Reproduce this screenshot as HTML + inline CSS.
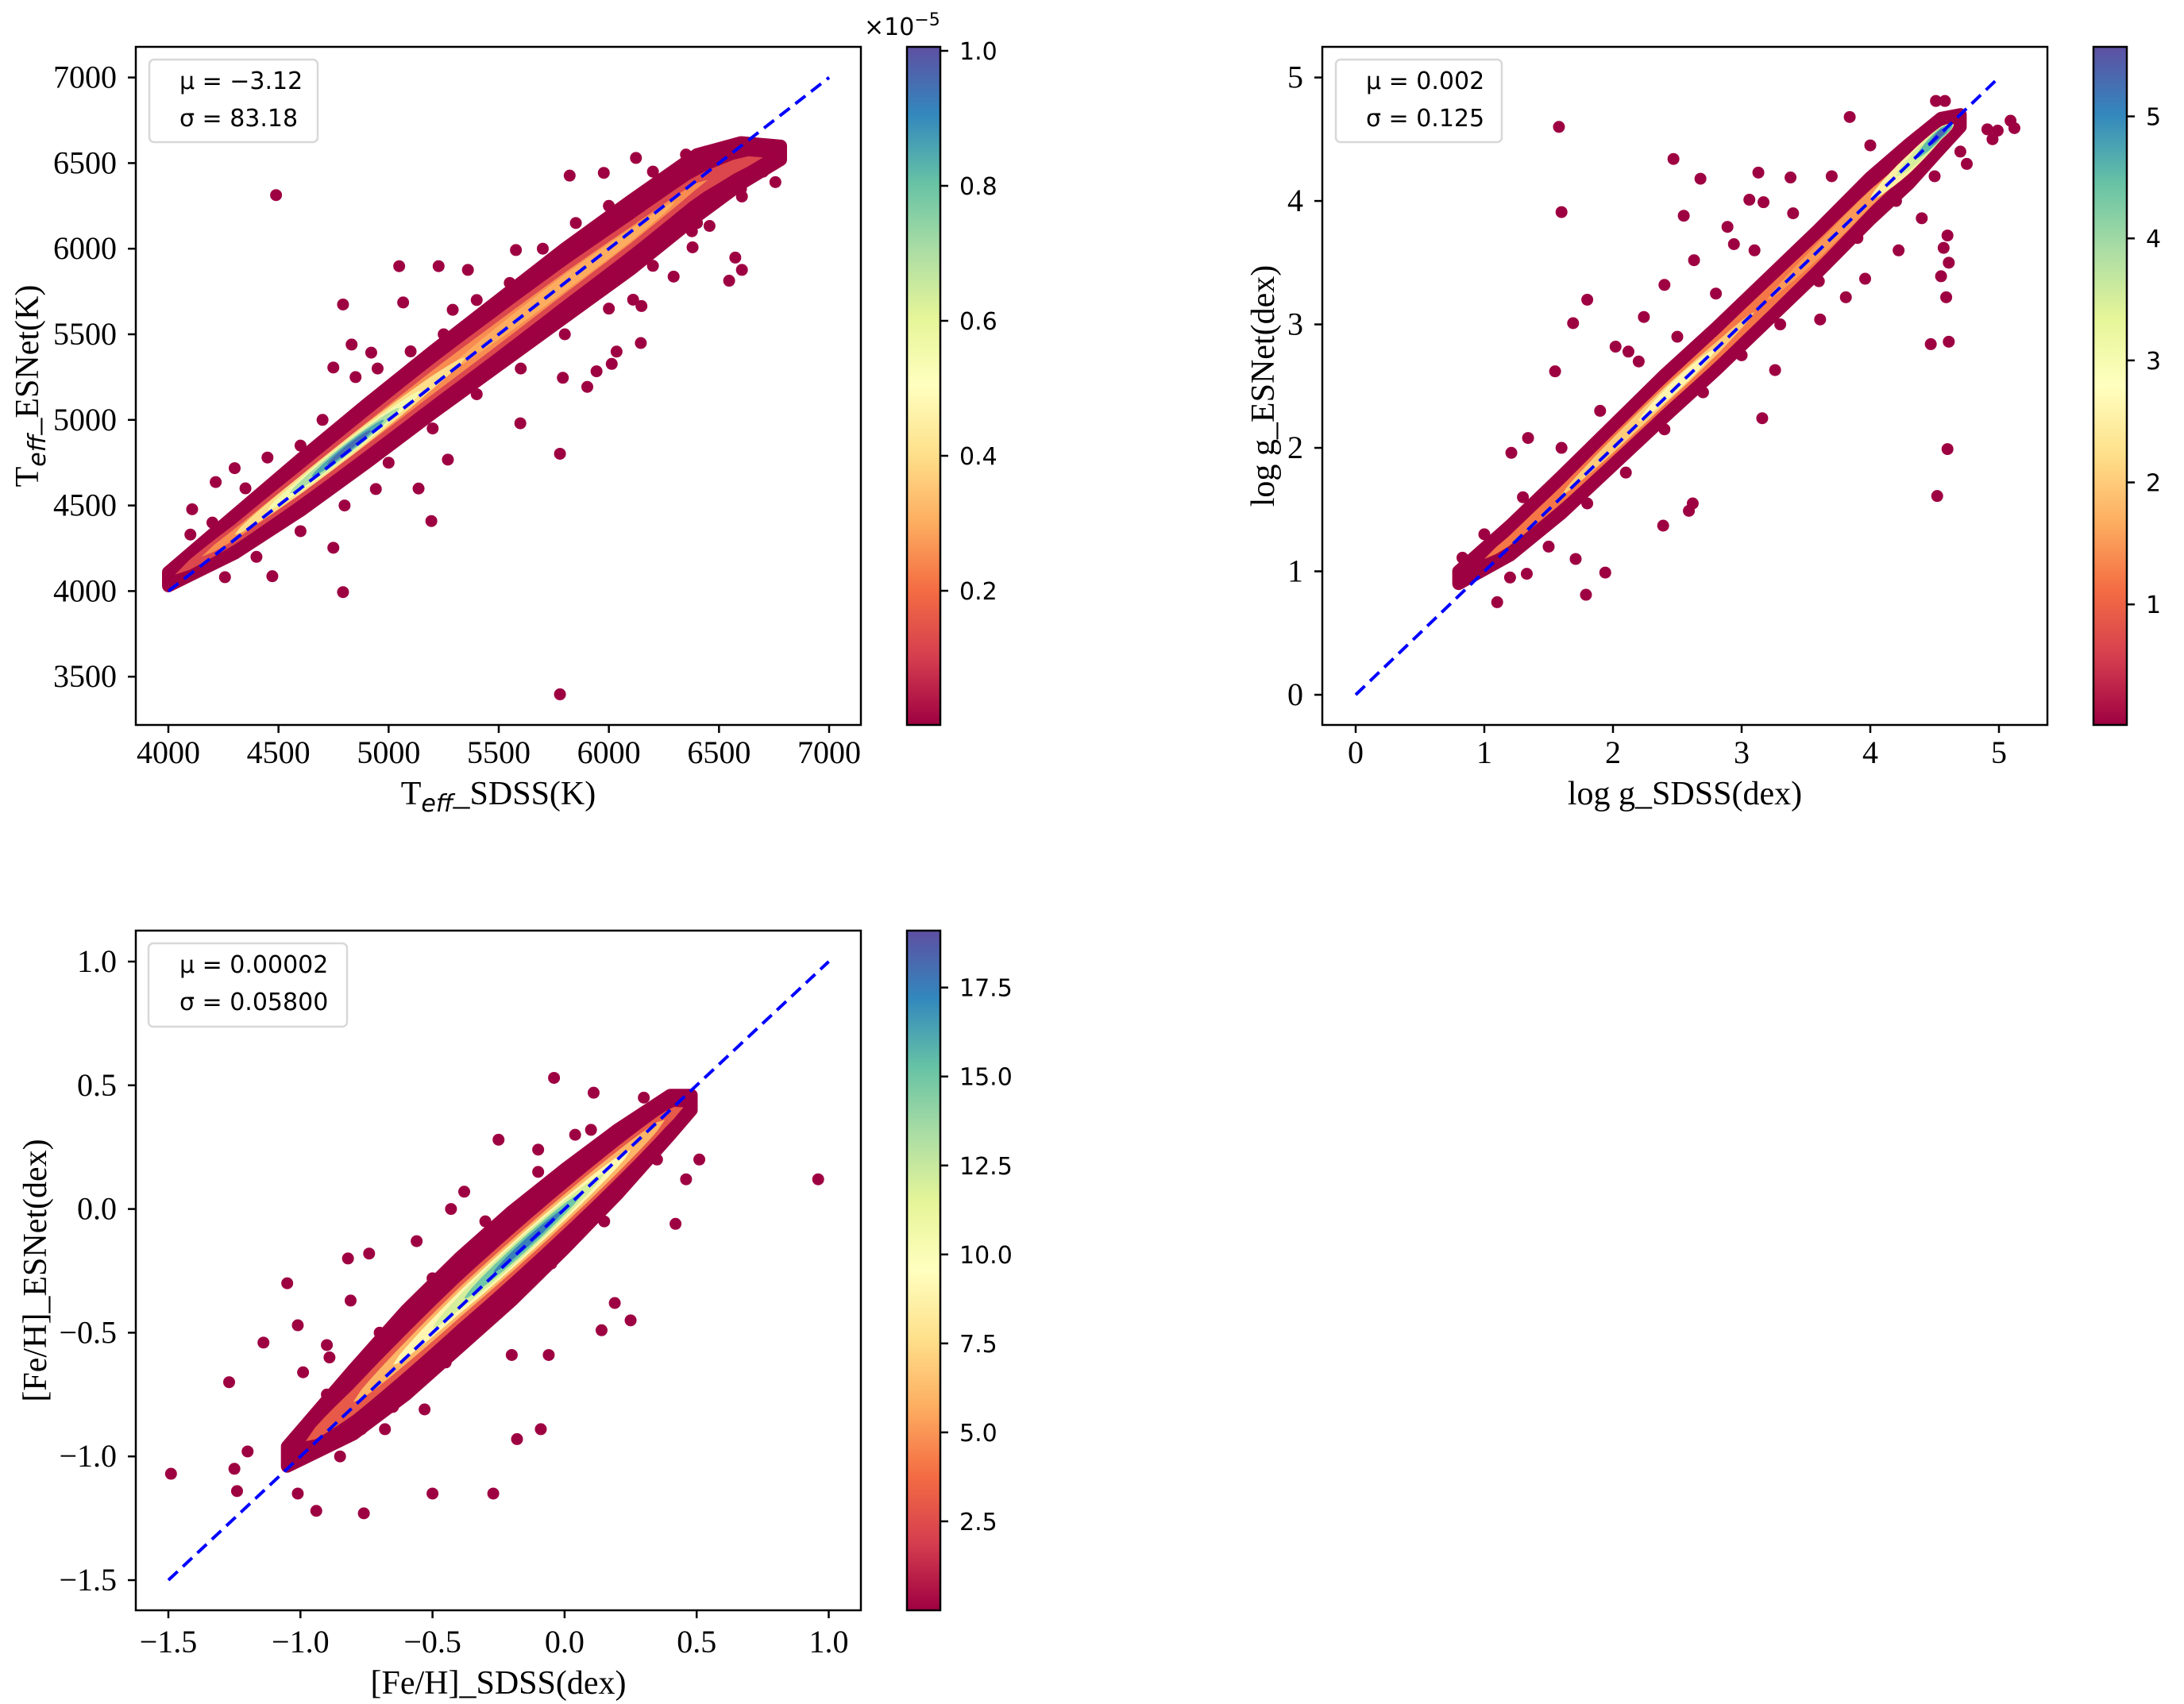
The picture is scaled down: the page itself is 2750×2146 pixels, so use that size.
<!DOCTYPE html>
<html><head><meta charset="utf-8"><style>
html,body{margin:0;padding:0;background:#fff;}
svg{display:block;}
.tick{font-family:"Liberation Serif",serif;font-size:40px;fill:#000;}
.alab{font-family:"Liberation Serif",serif;font-size:42px;fill:#000;}
.cbl{font-family:"DejaVu Sans",sans-serif;font-size:30px;fill:#000;}
.leg{font-family:"DejaVu Sans",sans-serif;font-size:30px;fill:#000;}
</style></head><body>
<svg id="fig" xmlns="http://www.w3.org/2000/svg" width="2750" height="2146" viewBox="0 0 2750 2146">
<defs>
<linearGradient id="spec" x1="0" y1="1" x2="0" y2="0">
<stop offset="0" stop-color="#9e0142"/><stop offset="0.1" stop-color="#d53e4f"/><stop offset="0.2" stop-color="#f46d43"/><stop offset="0.3" stop-color="#fdae61"/><stop offset="0.4" stop-color="#fee08b"/><stop offset="0.5" stop-color="#ffffbf"/><stop offset="0.6" stop-color="#e6f598"/><stop offset="0.7" stop-color="#abdda4"/><stop offset="0.8" stop-color="#66c2a5"/><stop offset="0.9" stop-color="#3288bd"/><stop offset="1" stop-color="#5e4fa2"/>
</linearGradient>
</defs>
</svg>
<script>
// ---------- Panel 1: Teff ----------
const p1XTicks = [4000,4500,5000,5500,6000,6500,7000];
const p1YTicks = [3500,4000,4500,5000,5500,6000,6500,7000];
const p1CbTicks = [0.2,0.4,0.6,0.8,1.0];
const p1OutX = [4489,5778,4793,5778,5598,5048,5227,5360,5066,4793,5194,6546,6604,6574,6145,6035,5902,5791,5944,6756,6604,6380,6294,5822,5977,6123,5269,5136,4942,4749,4472,4257,4108,4301,4215,4616,4832,4749,5291,4921,6148,5578,6013,6110,6377,6457,
 4100,4200,4350,4450,4600,4700,4850,4950,5100,5250,5400,5550,5700,5850,6000,6200,6350,4400,4600,4800,5000,5200,5400,5600,5800,6000,6200,6400,6600,6700];
const p1OutY = [6313,3397,3994,4802,4980,5898,5898,5876,5686,5674,4409,5813,5876,5948,5449,5399,5193,5246,5284,6389,6305,6008,5837,6427,6443,6530,4768,4599,4596,4253,4087,4081,4478,4718,4637,4625,5440,5306,5643,5393,5665,5992,5327,5702,6102,6133,
 4330,4400,4600,4780,4850,5000,5250,5300,5400,5500,5700,5800,6000,6150,6250,6450,6550,4200,4350,4500,4750,4950,5150,5300,5500,5650,5900,6150,6350,6450];
const p1CenX = [4000,4300,4600,4900,5200,5500,5800,6100,6400,6600,6780];
const p1CenY = [4070,4330,4620,4920,5220,5510,5800,6080,6370,6500,6560];
const p1Spread = [40,110,150,170,180,190,200,200,180,120,40];
const p1CoreLevel = [0.12,0.25,0.3,0.4,0.55,0.7,0.85,0.95];
const p1CoreX0 = [4030,4150,5250,4300,4450,4550,4650,4720];
const p1CoreX1 = [6700,6450,6300,5350,5150,5050,4980,4920];
const p1CoreSpread = [105,70,50,60,48,40,30,20];

// ---------- Panel 2: log g ----------
const p2XTicks = [0,1,2,3,4,5];
const p2YTicks = [0,1,2,3,4,5];
const p2CbTicks = [1,2,3,4,5];
const p2OutX = [1.58,1.60,2.47,2.68,3.13,3.06,3.17,3.38,2.55,2.89,2.94,2.63,1.69,1.80,2.40,2.24,2.02,2.12,1.55,1.21,1.34,1.79,1.94,1.71,2.39,2.59,2.62,1.10,0.83,3.16,3.26,4.47,4.61,4.60,4.52,4.59,4.55,4.61,4.57,4.60,4.40,4.22,3.96,3.81,3.84,4.51,4.58,4.91,5.09,5.12,4.75,4.99,4.95,3.61,1.33,
 1.0,1.3,1.6,1.9,2.2,2.5,2.8,3.1,3.4,3.7,4.0,1.2,1.5,1.8,2.1,2.4,2.7,3.0,3.3,3.6,3.9,4.2,4.5,4.7];
const p2OutY = [4.60,3.91,4.34,4.18,4.23,4.01,3.99,4.19,3.88,3.79,3.65,3.52,3.01,3.20,3.32,3.06,2.82,2.78,2.62,1.96,2.08,0.81,0.99,1.10,1.37,1.49,1.55,0.75,1.11,2.24,2.63,2.84,2.86,1.99,1.61,3.22,3.39,3.50,3.62,3.72,3.86,3.60,3.37,3.22,4.68,4.81,4.81,4.58,4.65,4.59,4.30,4.57,4.50,3.04,0.98,
 1.3,1.6,2.0,2.3,2.7,2.9,3.25,3.6,3.9,4.2,4.45,0.95,1.2,1.55,1.8,2.15,2.45,2.75,3.0,3.35,3.7,4.0,4.2,4.4];
const p2CenX = [0.8,1.2,1.6,2.0,2.4,2.8,3.2,3.6,4.0,4.3,4.55,4.7];
const p2CenY = [0.95,1.25,1.62,2.02,2.42,2.8,3.2,3.6,4.02,4.3,4.55,4.65];
const p2Spread = [0.05,0.12,0.15,0.16,0.17,0.17,0.17,0.17,0.17,0.16,0.12,0.05];
const p2CoreLevel = [1.2,1.5,2.0,2.5,2.6,3.5,4.5,5.3];
const p2CoreX0 = [1.0,3.2,1.6,4.0,2.2,4.2,4.35,4.45];
const p2CoreX1 = [4.65,4.4,3.1,4.65,2.8,4.65,4.64,4.6];
const p2CoreSpread = [0.1,0.07,0.07,0.08,0.055,0.065,0.05,0.035];

// ---------- Panel 3: [Fe/H] ----------
const p3XTicks = [-1.5,-1.0,-0.5,0.0,0.5,1.0];
const p3YTicks = [-1.5,-1.0,-0.5,0.0,0.5,1.0];
const p3CbTicks = [2.5,5.0,7.5,10.0,12.5,15.0,17.5];
const p3OutX = [-1.49,-1.27,-1.14,-1.05,-1.01,-0.99,-1.20,-1.25,-1.24,-1.01,-0.94,-0.76,-0.50,-0.27,-0.18,-0.09,-0.06,-0.04,0.11,-0.25,0.51,0.46,0.96,0.42,0.25,0.14,0.19,-0.82,-0.74,-0.81,-0.90,-0.89,-0.53,-0.68,-0.77,-0.56,-0.43,-0.38,-0.10,0.04,-0.20,
 -0.9,-0.7,-0.5,-0.3,-0.1,0.1,0.3,-0.85,-0.65,-0.45,-0.25,-0.05,0.15,0.35];
const p3OutY = [-1.07,-0.70,-0.54,-0.30,-0.47,-0.66,-0.98,-1.05,-1.14,-1.15,-1.22,-1.23,-1.15,-1.15,-0.93,-0.89,-0.59,0.53,0.47,0.28,0.20,0.12,0.12,-0.06,-0.45,-0.49,-0.38,-0.20,-0.18,-0.37,-0.55,-0.60,-0.81,-0.89,-0.89,-0.13,0.00,0.07,0.24,0.30,-0.59,
 -0.75,-0.5,-0.28,-0.05,0.15,0.32,0.45,-1.0,-0.8,-0.62,-0.42,-0.22,-0.05,0.2];
const p3CenX = [-1.05,-0.8,-0.6,-0.4,-0.2,0,0.2,0.4,0.48];
const p3CenY = [-1.0,-0.78,-0.58,-0.38,-0.19,0.0,0.19,0.38,0.43];
const p3Spread = [0.04,0.13,0.17,0.18,0.18,0.16,0.13,0.08,0.03];
const p3CoreLevel = [3,6,9,12,15,17.5];
const p3CoreX0 = [-0.98,-0.8,-0.65,-0.5,-0.38,-0.27];
const p3CoreX1 = [0.45,0.38,0.25,0.15,0.07,0.0];
const p3CoreSpread = [0.085,0.065,0.052,0.042,0.032,0.02];

const NS = 'http://www.w3.org/2000/svg';
const svg = document.getElementById('fig');
const stops = ['#9e0142','#d53e4f','#f46d43','#fdae61','#fee08b','#ffffbf','#e6f598','#abdda4','#66c2a5','#3288bd','#5e4fa2'];
function hex(c){return [parseInt(c.substr(1,2),16),parseInt(c.substr(3,2),16),parseInt(c.substr(5,2),16)];}
function cmap(t){t=Math.max(0,Math.min(1,t));const f=t*10;const i=Math.min(9,Math.floor(f));const u=f-i;const a=hex(stops[i]),b=hex(stops[i+1]);
 return 'rgb('+a.map((v,k)=>Math.round(v+(b[k]-v)*u)).join(',')+')';}
function mk(tag,attrs,parent){const e=document.createElementNS(NS,tag);for(const k in attrs)e.setAttribute(k,attrs[k]);(parent||svg).appendChild(e);return e;}
function lin(d0,d1,r0,r1){return v=>r0+(v-d0)*(r1-r0)/(d1-d0);}
function interp(xs,ys,x){if(x<=xs[0])return ys[0];for(let i=1;i<xs.length;i++){if(x<=xs[i]){const u=(x-xs[i-1])/(xs[i]-xs[i-1]);return ys[i-1]+u*(ys[i]-ys[i-1]);}}return ys[ys.length-1];}

function panel(cfg){
 const g=mk('g',{});
 
 
 const sx=lin(cfg.xd[0],cfg.xd[1],cfg.xr[0],cfg.xr[1]);
 const sy=lin(cfg.yd[0],cfg.yd[1],cfg.yr[0],cfg.yr[1]);
 const cmin=cfg.cd[0],cmax=cfg.cd[1];
 const col=v=>cmap((v-cmin)/(cmax-cmin));
 const clip='clip-'+cfg.name;
 const cp=mk('clipPath',{id:clip},g);mk('rect',{x:cfg.box[0],y:cfg.box[1],width:cfg.box[2]-cfg.box[0],height:cfg.box[3]-cfg.box[1]},cp);
 const plot=mk('g',{'clip-path':'url(#'+clip+')'},g);
 for(let i=0;i<cfg.outX.length;i++){
  const c=mk('circle',{cx:sx(cfg.outX[i]),cy:sy(cfg.outY[i]),r:7.5,fill:col(cmin)},plot);
  
  
 }
 const up=[],lo=[];
 for(let i=0;i<cfg.cenX.length;i++){up.push([sx(cfg.cenX[i]),sy(cfg.cenY[i]+cfg.spread[i])]);lo.push([sx(cfg.cenX[i]),sy(cfg.cenY[i]-cfg.spread[i])]);}
 const pts=up.concat(lo.reverse()).map(p=>p[0].toFixed(1)+','+p[1].toFixed(1)).join(' ');
 const ob=mk('polygon',{points:pts,fill:col(cmin),stroke:col(cmin),'stroke-width':16,'stroke-linejoin':'round'},plot);
 
 
 const idx=cfg.coreLevel.map((v,i)=>i).sort((a,b)=>cfg.coreLevel[a]-cfg.coreLevel[b]);
 idx.forEach(i=>{
  const N=40,u=[],l=[];
  for(let k=0;k<=N;k++){const t=k/N;const x=cfg.coreX0[i]+t*(cfg.coreX1[i]-cfg.coreX0[i]);const y=interp(cfg.cenX,cfg.cenY,x);const hw=cfg.coreSpread[i]*Math.pow(Math.sin(Math.PI*t),0.5);
   u.push(sx(x).toFixed(1)+','+sy(y+hw).toFixed(1));l.push(sx(x).toFixed(1)+','+sy(y-hw).toFixed(1));}
  const p=mk('polygon',{points:u.concat(l.reverse()).join(' '),fill:col(cfg.coreLevel[i])},plot);
  
  
 });
 const dl=mk('line',{x1:sx(cfg.line[0]),y1:sy(cfg.line[0]),x2:sx(cfg.line[1]),y2:sy(cfg.line[1]),stroke:'#0000ff','stroke-width':4,'stroke-dasharray':'16,9'},plot);
 
 
 const fr=mk('rect',{x:cfg.box[0],y:cfg.box[1],width:cfg.box[2]-cfg.box[0],height:cfg.box[3]-cfg.box[1],fill:'none',stroke:'#000','stroke-width':2.5},g);
 
 
 cfg.xt.forEach(v=>{const x=sx(v);mk('line',{x1:x,y1:cfg.box[3],x2:x,y2:cfg.box[3]+10,stroke:'#000','stroke-width':2.5},g);
  const t=mk('text',{x:x,y:cfg.xtb,'text-anchor':'middle',class:'tick'},g);t.textContent=cfg.fmt(v);
  
  });
 cfg.yt.forEach(v=>{const y=sy(v);mk('line',{x1:cfg.box[0],y1:y,x2:cfg.box[0]-10,y2:y,stroke:'#000','stroke-width':2.5},g);
  const t=mk('text',{x:cfg.box[0]-24,y:y+13,'text-anchor':'end',class:'tick'},g);t.textContent=cfg.fmt(v);
  
  });
 const xl=mk('text',{x:(cfg.box[0]+cfg.box[2])/2,y:cfg.xlb,'text-anchor':'middle',class:'alab'},g);xl.innerHTML=cfg.xlabel;
 
 
 const yc=(cfg.box[1]+cfg.box[3])/2;
 const yl=mk('text',{x:cfg.ylx,y:yc,'text-anchor':'middle',class:'alab',transform:'rotate(-90 '+cfg.ylx+' '+yc+')'},g);yl.innerHTML=cfg.ylabel;
 
 
 const L=cfg.leg;
 const lr=mk('rect',{x:L[0],y:L[1],width:L[2]-L[0],height:L[3]-L[1],rx:6,fill:'#fff','fill-opacity':0.85,stroke:'#d8d8d8','stroke-width':2.5},g);
 
 
 const l1=mk('text',{x:L[4],y:L[1]+37,class:'leg'},g);l1.textContent=cfg.legText[0];
 
 
 const l2=mk('text',{x:L[4],y:L[1]+84,class:'leg'},g);l2.textContent=cfg.legText[1];
 
 
 const C=cfg.cb;
 const cy=lin(cmin,cmax,C[3],C[1]);
 const cr=mk('rect',{x:C[0],y:C[1],width:C[2]-C[0],height:C[3]-C[1],fill:'url(#spec)',stroke:'#000','stroke-width':2.5},g);
 
 
 cfg.ct.forEach(v=>{const y=cy(v);mk('line',{x1:C[2],y1:y,x2:C[2]+10,y2:y,stroke:'#000','stroke-width':2.5},g);
  const t=mk('text',{x:C[2]+24,y:y+11,class:'cbl'},g);t.textContent=cfg.cfmt(v);
  
  });
 if(cfg.cbExp){const t=mk('text',{x:C[0]-54,y:44,class:'cbl'},g);t.innerHTML='×10<tspan dy="-12" font-size="22">−5</tspan>';
  
  }
}
const minus=s=>s.replace('-','−');
panel({name:'teff-panel',xd:[4000,7000],xr:[212,1044],yd:[4000,7000],yr:[744.4,97.6],box:[171,59,1084,913],
 cd:[0.0012,1.0059],outX:p1OutX,outY:p1OutY,cenX:p1CenX,cenY:p1CenY,spread:p1Spread,coreLevel:p1CoreLevel,coreX0:p1CoreX0,coreX1:p1CoreX1,coreSpread:p1CoreSpread,
 line:[4000,7000],xt:p1XTicks,yt:p1YTicks,fmt:v=>String(v),xtb:961,xlb:1013,ylx:48,
 xlabel:'T<tspan dy="9" font-family="DejaVu Sans" font-style="italic" font-size="30">eff</tspan><tspan dy="-9">_SDSS(K)</tspan>',
 ylabel:'T<tspan dy="9" font-family="DejaVu Sans" font-style="italic" font-size="30">eff</tspan><tspan dy="-9">_ESNet(K)</tspan>',
 leg:[188,75,400,179,226],legText:['μ = −3.12','σ = 83.18'],cb:[1142,59,1184,913],ct:p1CbTicks,cfmt:v=>v.toFixed(1),cbExp:true});
panel({name:'logg-panel',xd:[0,5],xr:[1707,2517],yd:[0,5],yr:[875,97.6],box:[1665,59,2578,913],
 cd:[0.012,5.57],outX:p2OutX,outY:p2OutY,cenX:p2CenX,cenY:p2CenY,spread:p2Spread,coreLevel:p2CoreLevel,coreX0:p2CoreX0,coreX1:p2CoreX1,coreSpread:p2CoreSpread,
 line:[0,5],xt:p2XTicks,yt:p2YTicks,fmt:v=>String(v),xtb:961,xlb:1013,ylx:1604,
 xlabel:'log g_SDSS(dex)',ylabel:'log g_ESNet(dex)',
 leg:[1682,75,1891,179,1720],legText:['μ = 0.002','σ = 0.125'],cb:[2636,59,2678,913],ct:p2CbTicks,cfmt:v=>String(v),cbExp:false});
panel({name:'feh-panel',xd:[-1.5,1.0],xr:[212,1043.5],yd:[-1.5,1.0],yr:[1990,1211],box:[171,1172,1084,2028],
 cd:[0.0,19.1],outX:p3OutX,outY:p3OutY,cenX:p3CenX,cenY:p3CenY,spread:p3Spread,coreLevel:p3CoreLevel,coreX0:p3CoreX0,coreX1:p3CoreX1,coreSpread:p3CoreSpread,
 line:[-1.5,1.0],xt:p3XTicks,yt:p3YTicks,fmt:v=>minus(v.toFixed(1)),xtb:2081,xlb:2133,ylx:58,
 xlabel:'[Fe/H]_SDSS(dex)',ylabel:'[Fe/H]_ESNet(dex)',
 leg:[187,1188,437,1293,226],legText:['μ = 0.00002','σ = 0.05800'],cb:[1142,1172,1184,2028],ct:p3CbTicks,cfmt:v=>v.toFixed(1),cbExp:false});
</script>
</body></html>
